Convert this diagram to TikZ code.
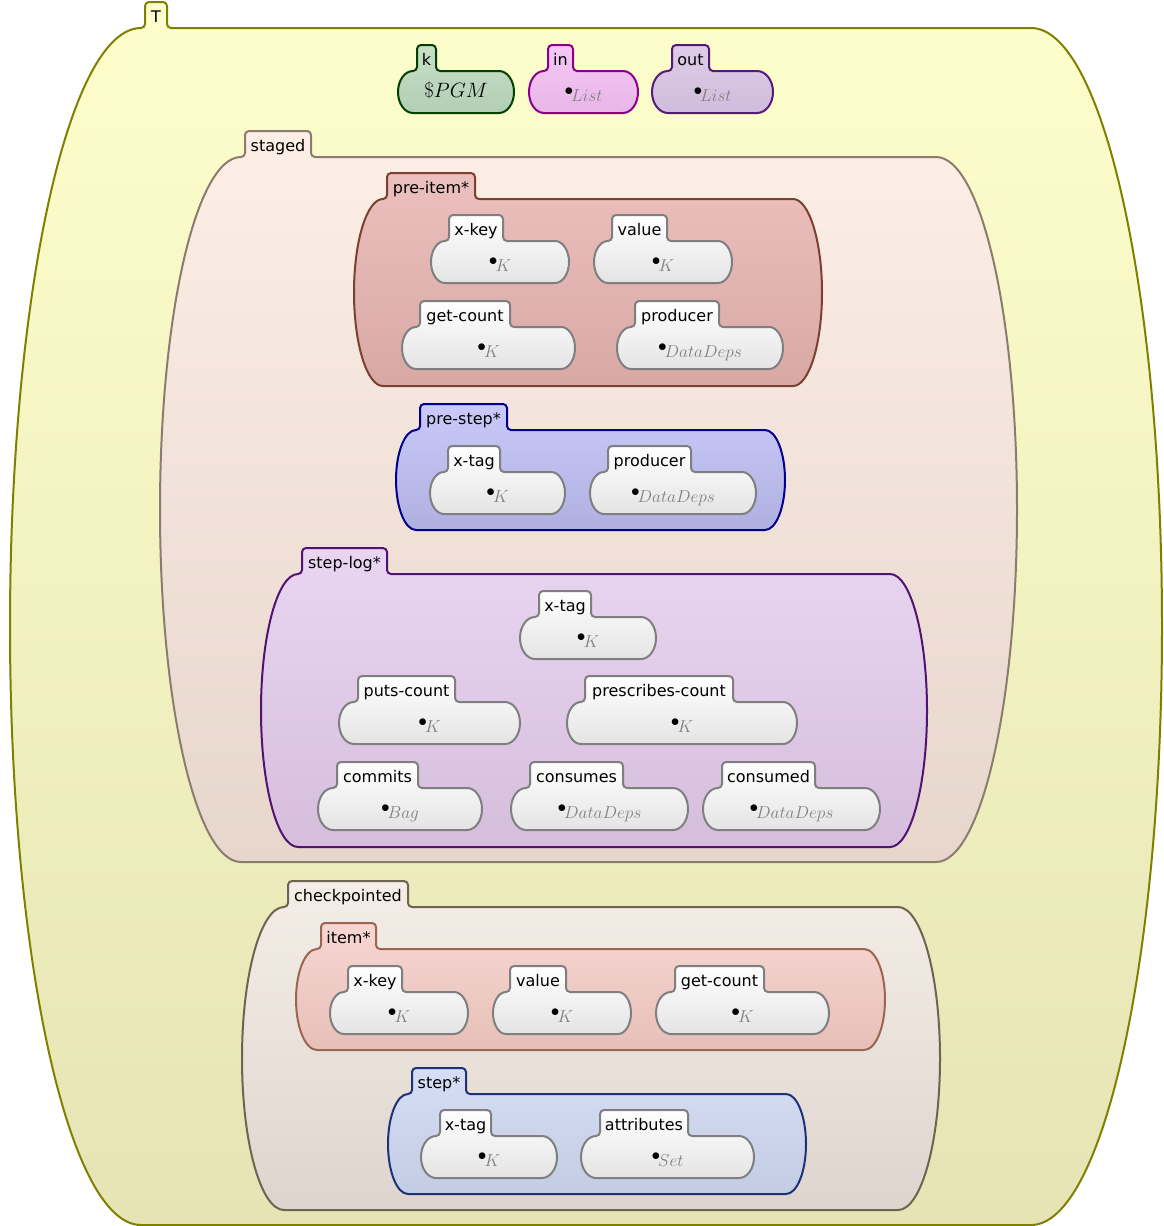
\documentclass[tikz,border=0pt]{standalone}
\usepackage[no-math]{fontspec}
\newfontfamily\labelfont{DejaVu Sans}
\usetikzlibrary{positioning}

\definecolor{leafline}{HTML}{7F7F7F}
\definecolor{leafbot}{HTML}{E4E4E4}
\definecolor{sortgray}{HTML}{808080}

% cell: [style]{name}{label}{x1}{x2}{body top}{body bottom}{tab left}{tab right}
\newcommand\kcell[9][leafcell]{%
  \pgfmathsetmacro\crx{#8-4-#4}%
  \pgfmathsetmacro\cry{(#7-#6)/2}%
  \pgfmathsetmacro\ctop{#6-26}%
  \draw[#1] ({#8+4},\ctop) -- ({#9-4},\ctop)
    arc[start angle=-90,end angle=0,radius=4] -- (#9,{#6-4})
    arc[start angle=180,end angle=90,radius=4] -- ({#5-\crx},#6)
    arc[start angle=-90,end angle=90,x radius=\crx,y radius=\cry] -- ({#4+\crx},#7)
    arc[start angle=90,end angle=270,x radius=\crx,y radius=\cry] -- ({#8-4},#6)
    arc[start angle=90,end angle=0,radius=4] -- (#8,{\ctop+4})
    arc[start angle=180,end angle=270,radius=4] -- cycle;
  \node[celllabel] (#2) at ({(#8+#9)/2},{#6-6}) {#3};
}
% leaf: {name}{label}{x1}{x2}{body top}{tab left}{tab right}{sort}
\newcommand\kleaf[8]{%
  \pgfmathsetmacro\lbot{#5+42}%
  \kcell{#1}{#2}{#3}{#4}{#5}{\lbot}{#6}{#7}
  \node[sortval] (#1-v) at ({(#3+#4)/2},{#5+30}) {\sortdot{#8}};
}
\newcommand\sortdot[1]{\raisebox{5.5pt}{$\bullet$}\kern-2pt\textcolor{sortgray}{$#1$}}

\begin{document}
\begin{tikzpicture}[x=1pt,y=-1pt,every path/.style={line width=2pt},
  leafcell/.style={draw=leafline,top color=white,bottom color=leafbot},
  topcell/.style={draw={rgb,255:red,128;green,128;blue,0},top color={rgb,255:red,254;green,254;blue,204},bottom color={rgb,255:red,230;green,228;blue,180}},
  kcellst/.style={draw={rgb,255:red,0;green,64;blue,0},top color={rgb,255:red,200;green,224;blue,200},bottom color={rgb,255:red,178;green,206;blue,180}},
  incell/.style={draw={rgb,255:red,139;green,0;blue,139},top color={rgb,255:red,246;green,200;blue,246},bottom color={rgb,255:red,232;green,182;blue,232}},
  outcell/.style={draw={rgb,255:red,85;green,26;blue,120},top color={rgb,255:red,222;green,204;blue,232},bottom color={rgb,255:red,208;green,188;blue,220}},
  stagedcell/.style={draw={rgb,255:red,140;green,124;blue,112},top color={rgb,255:red,253;green,238;blue,230},bottom color={rgb,255:red,230;green,214;blue,204}},
  preitemcell/.style={draw={rgb,255:red,122;green,64;blue,48},top color={rgb,255:red,236;green,192;blue,190},bottom color={rgb,255:red,216;green,168;blue,164}},
  prestepcell/.style={draw={rgb,255:red,0;green,0;blue,139},top color={rgb,255:red,202;green,202;blue,250},bottom color={rgb,255:red,176;green,176;blue,224}},
  steplogcell/.style={draw={rgb,255:red,80;green,20;blue,112},top color={rgb,255:red,233;green,213;blue,242},bottom color={rgb,255:red,213;green,190;blue,220}},
  checkcell/.style={draw={rgb,255:red,110;green,100;blue,82},top color={rgb,255:red,245;green,238;blue,232},bottom color={rgb,255:red,221;green,213;blue,205}},
  itemcell/.style={draw={rgb,255:red,156;green,101;blue,82},top color={rgb,255:red,248;green,214;blue,210},bottom color={rgb,255:red,230;green,192;blue,184}},
  stepcell/.style={draw={rgb,255:red,30;green,50;blue,120},top color={rgb,255:red,214;green,222;blue,246},bottom color={rgb,255:red,194;green,204;blue,226}},
  celllabel/.style={font={\labelfont\fontsize{16}{19}\selectfont},anchor=base,inner sep=0pt},
  sortval/.style={font=\fontsize{17}{20}\selectfont,anchor=base,inner sep=0pt}]
\useasboundingbox (0,0) rectangle (1164,1226);

\kcell[topcell]{T}{T}{10}{1162}{28}{1225}{145}{167}
% k, in, out
\kcell[kcellst]{k}{k}{398}{514}{71}{113}{417}{436}
\node[anchor=base,inner sep=0pt,font=\fontsize{22}{26}\selectfont] (k-v) at (456,97) {$\$PGM$};
\kcell[incell]{in}{in}{529}{638}{71}{113}{548}{573}
\node[sortval] (in-v) at (583.5,101) {\sortdot{List}};
\kcell[outcell]{out}{out}{652}{773}{71}{113}{672}{709}
\node[sortval] (out-v) at (712.5,101) {\sortdot{List}};

% staged
\kcell[stagedcell]{staged}{staged}{160}{1017}{157}{862}{245}{311}
\kcell[preitemcell]{preitem}{pre-item*}{354}{822}{199}{386}{387}{475}
\kleaf{pi-xkey}{x-key}{431}{569}{241}{449}{503}{K}
\kleaf{pi-value}{value}{594}{732}{241}{612}{667}{K}
\kleaf{pi-getcount}{get-count}{402}{575}{327}{420}{510}{K}
\kleaf{pi-producer}{producer}{617}{783}{327}{635}{719}{DataDeps}

\kcell[prestepcell]{prestep}{pre-step*}{396}{785}{430}{530}{420}{507}
\kleaf{ps-xtag}{x-tag}{430}{565}{472}{448}{500}{K}
\kleaf{ps-producer}{producer}{590}{756}{472}{608}{691}{DataDeps}

\kcell[steplogcell]{steplog}{step-log*}{261}{927}{574}{847}{302}{387}
\kleaf{sl-xtag}{x-tag}{520}{656}{617}{539}{591}{K}
\kleaf{sl-puts}{puts-count}{339}{520}{702}{358}{455}{K}
\kleaf{sl-prescribes}{prescribes-count}{567}{797}{702}{585}{733}{K}
\kleaf{sl-commits}{commits}{318}{482}{788}{337}{418}{Bag}
\kleaf{sl-consumes}{consumes}{511}{688}{788}{530}{623}{DataDeps}
\kleaf{sl-consumed}{consumed}{703}{880}{788}{722}{815}{DataDeps}

% checkpointed
\kcell[checkcell]{checkpointed}{checkpointed}{242}{940}{907}{1210}{288}{408}
\kcell[itemcell]{item}{item*}{296}{885}{949}{1050}{321}{376}
\kleaf{it-xkey}{x-key}{330}{468}{992}{348}{402}{K}
\kleaf{it-value}{value}{493}{631}{992}{510}{566}{K}
\kleaf{it-getcount}{get-count}{656}{829}{992}{675}{764}{K}

\kcell[stepcell]{step}{step*}{388}{806}{1094}{1194}{412}{466}
\kleaf{st-xtag}{x-tag}{421}{557}{1136}{440}{491}{K}
\kleaf{st-attr}{attributes}{581}{754}{1136}{600}{688}{Set}
\end{tikzpicture}
\end{document}
